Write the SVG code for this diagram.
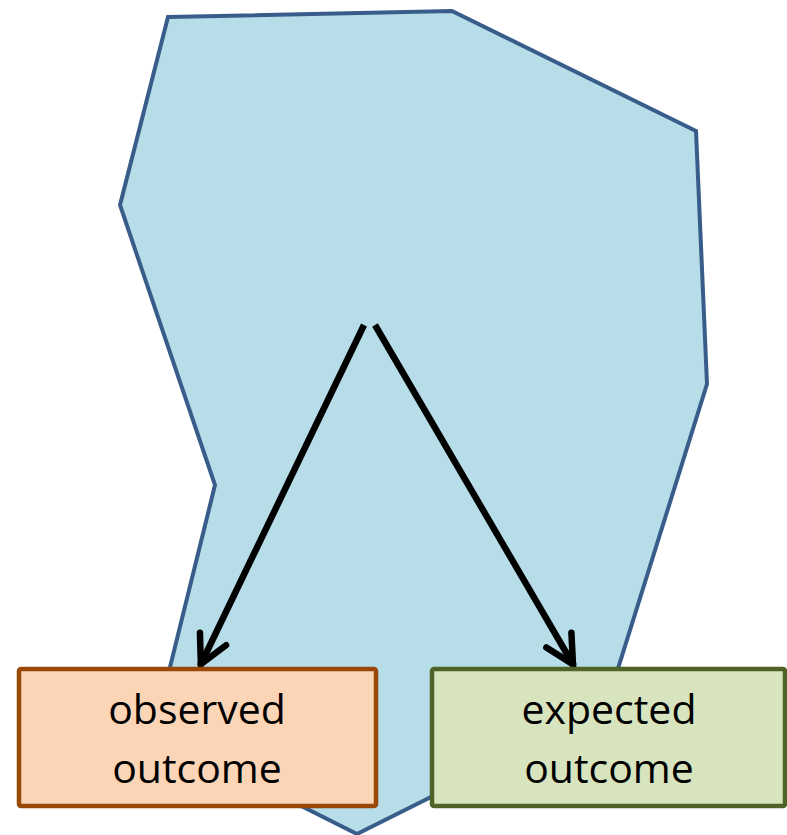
<svg xmlns="http://www.w3.org/2000/svg" width="787" height="835" viewBox="0 0 787 835">
<style>
.region{fill:#B7DDE8;stroke:#385D8A;stroke-width:4;stroke-linejoin:miter}
.conn{stroke:#000;stroke-width:6.5;fill:none}
.box text{font-family:"Open Sans","Noto Sans",sans-serif;font-size:41px;fill:#000;text-anchor:middle}
</style>
<defs>
<marker id="head" markerUnits="userSpaceOnUse" viewBox="-40 -20 50 40" refX="0" refY="0" markerWidth="50" markerHeight="40" orient="auto" overflow="visible">
<path d="M-30,-14.5 L-2,0 L-30,14.5" fill="none" stroke="#000" stroke-width="6.5" stroke-linecap="round" stroke-linejoin="miter"/>
</marker>
</defs>
<g id="region">
<polygon class="region" points="168,17 452,11 696,131 707,384 605,710 357,834 154,732 215,485 120,205"/>
</g>
<g id="connectors">
<line class="conn" x1="364" y1="325" x2="200" y2="666" marker-end="url(#head)"/>
<line class="conn" x1="375" y1="325" x2="574" y2="666" marker-end="url(#head)"/>
</g>
<g id="observed" class="box">
<rect x="19" y="669" width="357" height="137" rx="2" fill="#FBD5B5" stroke="#984807" stroke-width="4.5"/>
<text x="197" y="724">observed</text>
<text x="197" y="783">outcome</text>
</g>
<g id="expected" class="box">
<rect x="432" y="669" width="353" height="137" rx="2" fill="#D7E4BD" stroke="#4F6228" stroke-width="4.5"/>
<text x="609" y="724">expected</text>
<text x="609" y="783">outcome</text>
</g>
</svg>
